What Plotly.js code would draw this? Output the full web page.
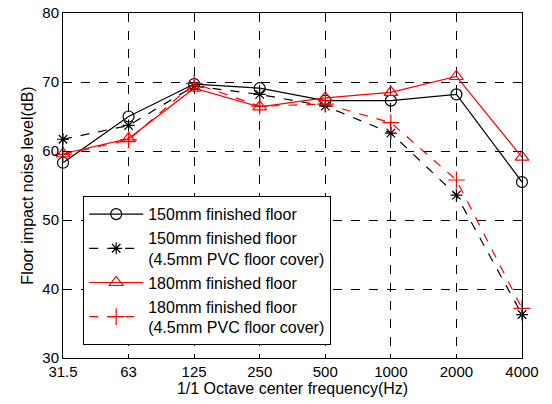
<!DOCTYPE html>
<html>
<head>
<meta charset="utf-8">
<script src="https://cdn.plot.ly/plotly-3.0.1.min.js"></script>
<style>html,body{margin:0;padding:0;background:#fff;}#chart{width:552px;height:404px;}</style>
</head>
<body>
<div id="chart"></div>
<script>
const freqLabels = ["31.5", "63", "125", "250", "500", "1000", "2000", "4000"];
const seriesNames = [
  "150mm finished floor",
  "150mm finished floor<br>(4.5mm PVC floor cover)",
  "180mm finished floor",
  "180mm finished floor<br>(4.5mm PVC floor cover)"
];
const s150 = [58.3, 65.0, 69.7, 69.1, 67.3, 67.3, 68.2, 55.5];
const s150pvc = [61.7, 63.7, 69.4, 68.2, 66.5, 62.6, 53.6, 36.3];
const s180 = [59.6, 61.8, 69.1, 66.4, 67.7, 68.5, 70.8, 59.1];
const s180pvc = [59.5, 61.6, 69.8, 66.5, 66.8, 64.1, 55.8, 37.2];
const yTicks = [30, 40, 50, 60, 70, 80];

const fam = "Arial, 'Liberation Sans', sans-serif";
const tickFont = {family: fam, size: 15, color: "#000"};
const titleFont = {family: fam, size: 16, color: "#000"};

function tr(y, name, color, dash, symbol, msize) {
  return {
    x: freqLabels, y: y, name: name, type: "scatter", mode: "lines+markers",
    line: {color: color, width: 1.2, dash: dash},
    marker: {symbol: symbol, size: msize, color: color, line: {color: color, width: 1.2}},
    cliponaxis: false
  };
}

const data = [
  tr(s150, seriesNames[0], "#000000", "solid", "circle-open", 11),
  tr(s150pvc, seriesNames[1], "#000000", "dash", "asterisk-open", 10),
  tr(s180, seriesNames[2], "#ff0000", "solid", "triangle-up-open", 12),
  tr(s180pvc, seriesNames[3], "#ff0000", "dash", "cross-thin-open", 12)
];

const axisCommon = {
  showline: true, mirror: "ticks", linecolor: "#000", linewidth: 1,
  ticks: "inside", ticklen: 4, tickcolor: "#000", tickwidth: 1,
  showgrid: true, gridcolor: "#000", griddash: "dash", gridwidth: 1,
  zeroline: false, tickfont: tickFont
};

const layout = {
  width: 552, height: 404,
  margin: {l: 63, r: 30, t: 13, b: 46},
  paper_bgcolor: "#fff", plot_bgcolor: "#fff",
  font: tickFont,
  showlegend: true,
  legend: {
    x: 0.044, y: 0.469, xanchor: "left", yanchor: "top",
    bgcolor: "#fff", bordercolor: "#000", borderwidth: 1,
    font: {family: fam, size: 16, color: "#000"},
    tracegroupgap: 0, itemwidth: 54
  },
  xaxis: Object.assign({}, axisCommon, {
    type: "category", categoryorder: "array", categoryarray: freqLabels,
    range: [0, 7],
    title: {text: "1/1 Octave center frequency(Hz)", font: titleFont, standoff: 2}
  }),
  yaxis: Object.assign({}, axisCommon, {
    range: [30, 80], tickvals: yTicks, ticktext: yTicks.map(String),
    title: {text: "Floor impact noise level(dB)", font: titleFont, standoff: 4}
  })
};

Plotly.newPlot("chart", data, layout, {displayModeBar: false, staticPlot: true});
</script>
</body>
</html>
